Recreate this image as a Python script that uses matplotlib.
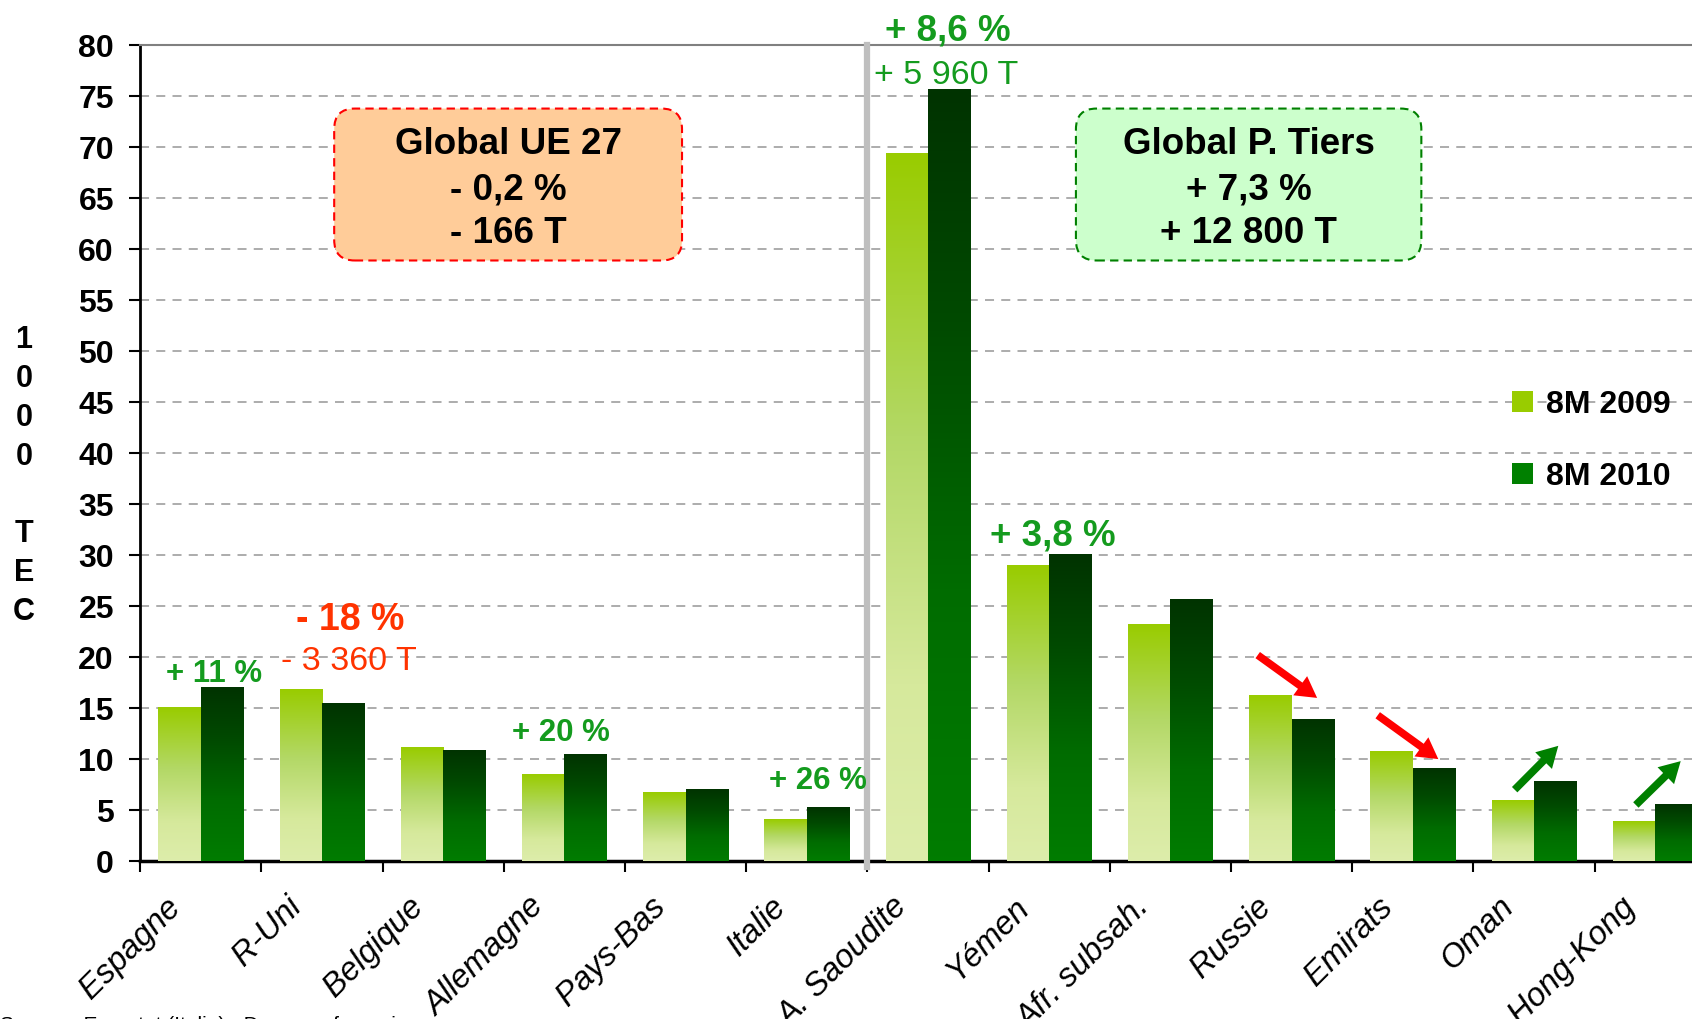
import numpy as np
import matplotlib
matplotlib.use('Agg')
import matplotlib.pyplot as plt
from matplotlib.colors import LinearSegmentedColormap
from matplotlib.patches import FancyBboxPatch, Patch
from matplotlib.transforms import ScaledTranslation

plt.rcParams['font.family'] = ['Liberation Sans', 'DejaVu Sans']

# data (1000 TEC)
pays = ['Espagne', 'R-Uni', 'Belgique', 'Allemagne', 'Pays-Bas', 'Italie',
        'A. Saoudite', 'Yémen', 'Afr. subsah.', 'Russie', 'Emirats', 'Oman', 'Hong-Kong']
v2009 = [15.1, 16.8, 11.1, 8.5, 6.7, 4.1, 69.4, 29.0, 23.2, 16.2, 10.7, 5.9, 3.9]
v2010 = [17.0, 15.4, 10.8, 10.4, 7.0, 5.2, 75.7, 30.1, 25.6, 13.9, 9.1, 7.8, 5.5]
series = ['8M 2009', '8M 2010']
yticks = list(range(0, 85, 5))

# text notes near the bars
notes = ['+ 11 %', '- 18 %', '- 3 360 T', '+ 20 %', '+ 26 %', '+ 8,6 %', '+ 5 960 T', '+ 3,8 %']
ue_lines = ['Global UE 27', '- 0,2 %', '- 166 T']
tiers_lines = ['Global P. Tiers', '+ 7,3 %', '+ 12 800 T']
source = 'Source : Eurostat (Italie) - Douanes françaises'

GREEN_TXT = '#149B1E'
RED_TXT = '#FF3300'

fig = plt.figure(figsize=(16.92, 10.19), dpi=100)
ax = fig.add_axes([0.0829, 0.155, 0.9312, 0.8005])

x = np.arange(len(pays))
w = 0.35
b1 = ax.bar(x - w/2, v2009, w, color='none', zorder=3)
b2 = ax.bar(x + w/2, v2010, w, color='none', zorder=3)

cm09 = LinearSegmentedColormap.from_list('c09', [(0, '#DDEDAB'), (0.25, '#D6E99C'),
                                                 (0.6, '#B3D866'), (1, '#99CC00')])
cm10 = LinearSegmentedColormap.from_list('c10', [(0, '#007C00'), (0.35, '#006C00'),
                                                 (0.7, '#004A00'), (1, '#003300')])
grad = np.linspace(0, 1, 256).reshape(-1, 1)
for bars, cm in ((b1, cm09), (b2, cm10)):
    for r in bars:
        ax.imshow(grad, cmap=cm, origin='lower', aspect='auto', interpolation='bilinear',
                  extent=(r.get_x(), r.get_x() + r.get_width(), 0, r.get_height()), zorder=3)

ax.set_xlim(-0.5, 12.5)
ax.set_ylim(0, 80)

# axes styling
ax.set_yticks(yticks, labels=[str(v) for v in yticks], fontweight='bold')
ax.yaxis.grid(True, ls=(0, (5, 4)), color='#A6A6A6', lw=1.3)
ax.set_axisbelow(True)
ax.tick_params(axis='y', direction='out', length=8, width=1.5, pad=11, labelsize=23)

ax.set_xticks(np.arange(-0.5, 13), labels=[])
ax.set_xticks(x, labels=pays, minor=True)
ax.tick_params(axis='x', which='major', direction='out', length=8, width=1.5)
ax.tick_params(axis='x', which='minor', length=0, pad=22, labelsize=23.5)
for lab in ax.get_xticklabels(minor=True):
    lab.set_rotation(45)
    lab.set_ha('right')
    lab.set_va('top')
    lab.set_fontstyle('italic')
    lab.set_transform(lab.get_transform() + ScaledTranslation(-0.14, 0, fig.dpi_scale_trans))

ax.spines['left'].set_linewidth(2)
ax.spines['bottom'].set_linewidth(2.5)
ax.spines['top'].set_color('#808080')
ax.spines['top'].set_linewidth(1.5)
ax.spines['right'].set_visible(False)

# separator UE / pays tiers
ax.axvline(5.5, ymin=-0.007, ymax=1, color='#BFBFBF', lw=4.5, zorder=4, clip_on=False)

fig.text(24/1692, 1 - 476/1019, '1\n0\n0\n0\n\nT\nE\nC', ha='center', va='center',
         fontsize=22, fontweight='bold', linespacing=1.38)

ax.legend([Patch(fc='#99CC00'), Patch(fc='#008000')], series, loc='upper left',
          bbox_to_anchor=(1512/1692, 1 - 390/1019), bbox_transform=fig.transFigure,
          frameon=False, borderaxespad=0, borderpad=0, handlelength=0.65, handleheight=0.65,
          handletextpad=0.4, labelspacing=1.3, prop=dict(size=23, weight='bold'))

# summary boxes
ma = 11.9
ax.add_patch(FancyBboxPatch((1.10, 58.9), 2.87, 14.9, boxstyle='round,pad=0,rounding_size=0.17',
                            mutation_aspect=ma, fc='#FFCC99', ec='#FF0000', ls=(0, (4, 2.5)),
                            lw=1.5, zorder=5))
ax.add_patch(FancyBboxPatch((7.22, 58.9), 2.85, 14.9, boxstyle='round,pad=0,rounding_size=0.17',
                            mutation_aspect=ma, fc='#CCFFCC', ec='#008000', ls=(0, (4, 2.5)),
                            lw=1.5, zorder=5))
for xc, lines in ((2.54, ue_lines), (8.645, tiers_lines)):
    for yc, t in zip((70.3, 65.8, 61.5), lines):
        ax.text(xc, yc, t, ha='center', va='center', fontsize=26.5, fontweight='bold', zorder=6)

# notes
note_pos = [(0.105, 18.3), (1.236, 23.6), (1.218, 19.6), (2.97, 12.6),
            (5.09, 7.9), (6.16, 81.4), (6.15, 77.0), (7.03, 31.9)]
note_size = [22.5, 27, 24.5, 22.5, 22.5, 26.5, 24.5, 26.5]
note_bold = [True, True, False, True, True, True, False, True]
note_col = [GREEN_TXT, RED_TXT, RED_TXT, GREEN_TXT, GREEN_TXT, GREEN_TXT, GREEN_TXT, GREEN_TXT]
for t, (px, py), s, bd, c in zip(notes, note_pos, note_size, note_bold, note_col):
    ax.text(px, py, t, ha='center', va='center', fontsize=s, color=c,
            fontweight='bold' if bd else 'normal', zorder=6, clip_on=False)

# trend arrows
arrows = [((8.72, 20.2), (9.21, 16.0), '#FF0000'), ((9.71, 14.3), (10.21, 10.0), '#FF0000'),
          ((10.84, 7.0), (11.20, 11.3), '#008000'), ((11.84, 5.5), (12.21, 9.8), '#008000')]
for tail, head, c in arrows:
    ax.annotate('', xy=head, xytext=tail, annotation_clip=False, zorder=6,
                arrowprops=dict(arrowstyle='simple,head_length=1.5,head_width=1.7,tail_width=0.55',
                                mutation_scale=10, fc=c, ec='none', shrinkA=0, shrinkB=0))

fig.text(0.0, 1 - 1016/1019, source, ha='left', va='top', fontsize=15)

fig.savefig('out.png', dpi=100)
